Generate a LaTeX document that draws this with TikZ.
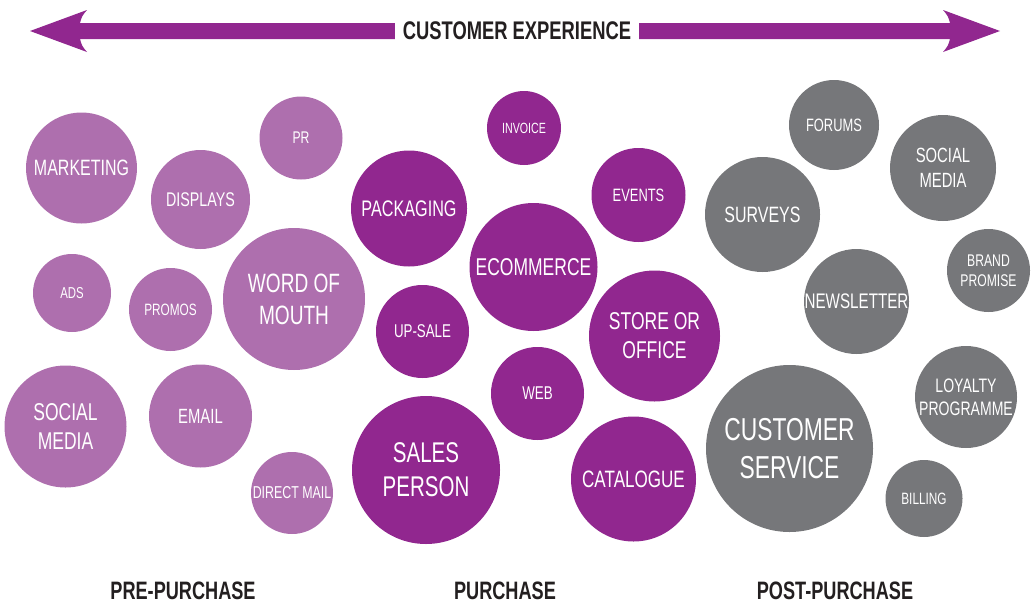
\documentclass[tikz,border=0pt]{standalone}
\usepackage{fontspec}
\setmainfont{Liberation Sans}[FakeStretch=0.72]
\definecolor{lp}{HTML}{AE6FAE}
\definecolor{dp}{HTML}{91278F}
\definecolor{gp}{HTML}{76777A}
\definecolor{tx}{HTML}{231F20}
\newcommand\bub[7]{%
  \node[#1, minimum size=#5*2pt] (#2) at (#3,#4) {};
  \node[bubtxt, font={\fontsize{#6}{\fpeval{#6*1.2}}\selectfont}] (#2-t) at (#2) {#7};}
\begin{document}
\begin{tikzpicture}[x=1pt,y=-1pt,
  lpb/.style={circle, fill=lp, inner sep=0pt},
  dpb/.style={circle, fill=dp, inner sep=0pt},
  gpb/.style={circle, fill=gp, inner sep=0pt},
  bubtxt/.style={text=white, align=center, inner sep=0pt},
  phase/.style={text=tx, font=\fontsize{25.2}{29}\selectfont\bfseries, inner sep=0pt}]
\useasboundingbox (0,0) rectangle (1035,605);
% top double arrow
\fill[dp] (30,31) -- (87,10) .. controls (82,16) .. (80,23) -- (950,23)
  .. controls (948,16) .. (943,10) -- (1000,31) -- (943,52)
  .. controls (948,46) .. (950,39) -- (80,39) .. controls (82,46) .. (87,52) -- cycle;
\node[fill=white, inner xsep=8pt, inner ysep=4pt, text=tx,
  font=\fontsize{25.5}{29}\selectfont\bfseries] (title) at (517,31) {CUSTOMER EXPERIENCE};
% pre-purchase
\bub{lpb}{mkt}{81.5}{168}{55.5}{22.2}{MARKETING}
\bub{lpb}{pr}{301}{138}{41.5}{16.9}{PR}
\bub{lpb}{disp}{200.5}{199.5}{49.5}{19.8}{DISPLAYS}
\bub{lpb}{ads}{72}{293}{39}{15.8}{ADS}
\bub{lpb}{promo}{170.5}{309.5}{41.5}{16.4}{PROMOS}
\bub{lpb}{wom}{294}{299}{71}{26.5}{WORD OF\\MOUTH}
\bub{lpb}{socl}{65.5}{426.5}{61}{24.3}{SOCIAL\\MEDIA}
\bub{lpb}{email}{200.5}{416}{51.5}{20.6}{EMAIL}
\bub{lpb}{dmail}{292}{493}{41}{17.2}{DIRECT MAIL}
% purchase
\bub{dpb}{inv}{524}{128}{37}{14.8}{INVOICE}
\bub{dpb}{pack}{409}{208.5}{58}{22.5}{PACKAGING}
\bub{dpb}{evt}{638.5}{195}{47}{17.9}{EVENTS}
\bub{dpb}{ecom}{533.5}{267}{64}{24.3}{ECOMMERCE}
\bub{dpb}{ups}{422.5}{331.5}{46.5}{18.5}{UP-SALE}
\bub{dpb}{store}{654.5}{336}{65.5}{24.3}{STORE OR\\OFFICE}
\bub{dpb}{web}{537.5}{393.5}{46.5}{18.5}{WEB}
\bub{dpb}{sales}{426}{470}{74}{28.5}{SALES\\PERSON}
\bub{dpb}{cat}{633.5}{479}{62.5}{23.7}{CATALOGUE}
% post-purchase
\bub{gpb}{forum}{834}{125}{45}{17.9}{FORUMS}
\bub{gpb}{socr}{943}{168}{53}{20.6}{SOCIAL\\MEDIA}
\bub{gpb}{surv}{762.5}{214.5}{57.5}{22.2}{SURVEYS}
\bub{gpb}{brand}{988.5}{270.5}{41.5}{16.9}{BRAND\\PROMISE}
\bub{gpb}{news}{856.5}{301.5}{52.5}{21.1}{NEWSLETTER}
\bub{gpb}{loyal}{966}{397}{51}{19.5}{LOYALTY\\PROGRAMME}
\bub{gpb}{cs}{789.5}{448.5}{83.5}{31.7}{CUSTOMER\\SERVICE}
\bub{gpb}{bill}{924}{498.5}{38.5}{16.4}{BILLING}
% phase labels
\node[phase] (pre) at (183,591) {PRE-PURCHASE};
\node[phase] (pur) at (505,591) {PURCHASE};
\node[phase] (post) at (835,591) {POST-PURCHASE};
\end{tikzpicture}
\end{document}
